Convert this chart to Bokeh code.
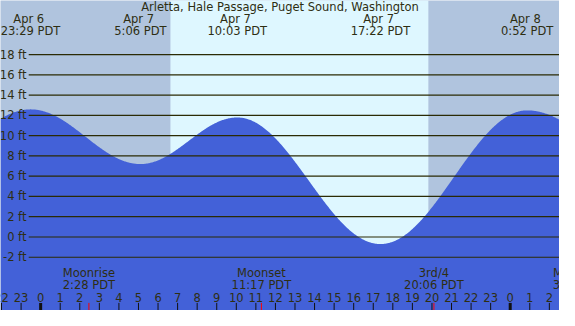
import numpy as np
from bokeh.plotting import figure
from bokeh.models import Range1d
from bokeh.embed import file_html
from bokeh.resources import INLINE
from bokeh.core.properties import value

# ---------------- data ----------------
title = "Arletta, Hale Passage, Puget Sound, Washington"

# tide extremes labelled along the top
tide_days = ["Apr  6", "Apr  7", "Apr  7", "Apr  7", "Apr  8"]
tide_times = ["23:29", "5:06", "10:03", "17:22", "0:52"]
tide_heights = [12.6, 7.2, 11.8, -0.7, 12.5]

# estimated turning points just beyond the chart edges (not labelled)
edge_days = ["Apr  6", "Apr  8"]
edge_times = ["17:52", "7:00"]
edge_heights = [7.2, 7.0]

# sun (Apr 7): sunrise, sunset
sun_days = ["Apr  7", "Apr  7"]
sun_times = ["6:38", "19:49"]

# moon events along the bottom
moon_labels = ["Moonrise", "Moonset", "3rd/4", "Moonrise"]
moon_days = ["Apr  7", "Apr  7", "Apr  7", "Apr  8"]
moon_times = ["2:28", "11:17", "20:06", "3:31"]

height_ticks = [-2, 0, 2, 4, 6, 8, 10, 12, 14, 16, 18]
hour_ticks = list(range(-2, 27))   # hours from Apr 7 00:00

# ---------------- style ----------------
NIGHT = "#b0c4de"
DAY = "#def7ff"
WATER = "#4361d8"
GRID = "#2b2b05"
TEXT = "#2e2e12"
FONT = value("DejaVu Sans")
FS = "11.5px"

DAY_OFF = {"Apr  6": -24.0, "Apr  7": 0.0, "Apr  8": 24.0}


def to_hours(day, t):
    hh, mm = t.split(":")
    return DAY_OFF[day] + int(hh) + int(mm) / 60.0


tide_h = [to_hours(d, t) for d, t in zip(tide_days, tide_times)]
edge_h = [to_hours(d, t) for d, t in zip(edge_days, edge_times)]
sun_h = [to_hours(d, t) for d, t in zip(sun_days, sun_times)]
moon_h = [to_hours(d, t) for d, t in zip(moon_days, moon_times)]

ext_t = [edge_h[0]] + tide_h + [edge_h[1]]
ext_v = [edge_heights[0]] + tide_heights + [edge_heights[1]]

X0, X1 = -2.052, 26.519
Y0, Y1 = -7.26, 23.35

# tide curve between turning points (cosine shape)
tt = np.linspace(X0, X1, 900)
vv = np.empty_like(tt)
for i, t in enumerate(tt):
    k = np.searchsorted(ext_t, t) - 1
    k = min(max(k, 0), len(ext_t) - 2)
    ta, tb = ext_t[k], ext_t[k + 1]
    va, vb = ext_v[k], ext_v[k + 1]
    f = (t - ta) / (tb - ta)
    vv[i] = va + (vb - va) * (1 - np.cos(np.pi * f)) / 2

W, H = 559, 310
p = figure(width=W, height=H, x_range=Range1d(X0, X1), y_range=Range1d(Y0, Y1),
           output_backend="svg", toolbar_location=None, min_border=0,
           x_axis_location=None, y_axis_location=None)
p.grid.visible = False
p.outline_line_color = None
p.background_fill_color = NIGHT
p.border_fill_color = NIGHT

# daylight
p.quad(left=[sun_h[0]], right=[sun_h[1]], bottom=[Y0 - 1], top=[Y1 + 1],
       fill_color=DAY, line_color=None)

# water
p.varea(x=tt, y1=np.full_like(tt, Y0 - 1), y2=vv, fill_color=WATER)

# height grid lines and labels
p.segment(x0=[-0.61] * len(height_ticks), x1=[X1 + 1] * len(height_ticks),
          y0=height_ticks, y1=height_ticks, line_color=GRID, line_width=1.2)
p.text(x=[-0.725] * len(height_ticks), y=height_ticks,
       text=[f"{h} ft" for h in height_ticks], text_align="right",
       text_baseline="middle", text_font=FONT, text_font_size=FS,
       text_color=TEXT)

# title and tide extreme labels
p.text(x=[(X0 + X1) / 2], y=[22.69], text=[title], text_align="center",
       text_baseline="middle", text_font=FONT, text_font_size=FS,
       text_color=TEXT)
p.text(x=tide_h, y=[21.52] * len(tide_h), text=tide_days, text_align="center",
       text_baseline="middle", text_font=FONT, text_font_size=FS,
       text_color=TEXT)
p.text(x=tide_h, y=[20.36] * len(tide_h), text=[f"{t} PDT" for t in tide_times],
       text_align="center", text_baseline="middle", text_font=FONT,
       text_font_size=FS, text_color=TEXT)

# moon labels
p.text(x=moon_h, y=[-3.57] * len(moon_h), text=moon_labels, text_align="center",
       text_baseline="middle", text_font=FONT, text_font_size=FS,
       text_color=TEXT)
p.text(x=moon_h, y=[-4.78] * len(moon_h), text=[f"{t} PDT" for t in moon_times],
       text_align="center", text_baseline="middle", text_font=FONT,
       text_font_size=FS, text_color=TEXT)

# hour labels and ticks
p.text(x=hour_ticks, y=[-5.93] * len(hour_ticks),
       text=[str(h % 24) for h in hour_ticks], text_align="center",
       text_baseline="middle", text_font=FONT, text_font_size=FS,
       text_color=TEXT)
thin = [h for h in hour_ticks if h % 24 != 0]
mid = [h for h in hour_ticks if h % 24 == 0]
p.segment(x0=thin, x1=thin, y0=[-6.51] * len(thin), y1=[Y0 - 1] * len(thin),
          line_color="#111111", line_width=1)
p.segment(x0=mid, x1=mid, y0=[-6.51] * len(mid), y1=[Y0 - 1] * len(mid),
          line_color="#111111", line_width=3)
p.segment(x0=moon_h, x1=moon_h, y0=[-6.51] * len(moon_h),
          y1=[Y0 - 1] * len(moon_h), line_color="#ff0000", line_width=1)

open("out.html", "w").write(file_html(p, INLINE))
